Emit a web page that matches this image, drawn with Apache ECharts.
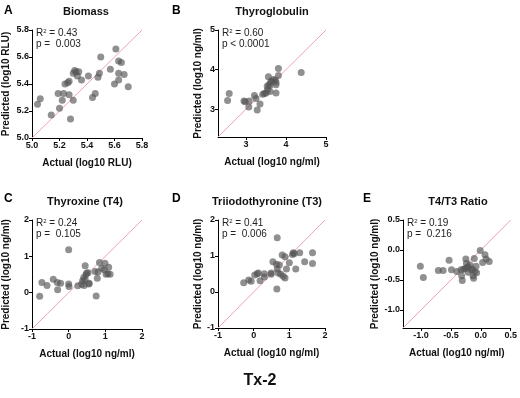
<!DOCTYPE html>
<html>
<head>
<meta charset="utf-8">
<script src="https://cdn.jsdelivr.net/npm/echarts@6/dist/echarts.min.js"></script>
<style>
html, body { margin: 0; padding: 0; background: #fff; }
#main { width: 520px; height: 398px; }
</style>
</head>
<body>
<div id="main"></div>
<script>
// data: [actual, predicted]
var biomassPts = [
    [5.04,5.25],[5.06,5.29],[5.14,5.17],[5.19,5.33],[5.20,5.22],[5.22,5.28],[5.23,5.33],
    [5.24,5.40],[5.26,5.41],[5.27,5.42],[5.27,5.32],[5.28,5.14],[5.30,5.28],[5.30,5.48],
    [5.31,5.50],[5.32,5.49],[5.33,5.46],[5.34,5.49],[5.36,5.43],[5.41,5.46],[5.44,5.30],
    [5.46,5.33],[5.48,5.45],[5.49,5.48],[5.50,5.60],[5.57,5.51],[5.60,5.40],[5.61,5.66],
    [5.63,5.57],[5.63,5.43],[5.63,5.48],[5.65,5.56],[5.67,5.47],[5.70,5.38]
];
var thyroglobulinPts = [
    [2.58,3.40],[2.54,3.22],[2.95,3.21],[2.98,3.19],[3.08,3.21],[3.07,3.06],[3.21,3.35],
    [3.25,3.27],[3.28,2.98],[3.35,3.13],[3.42,3.38],[3.46,3.40],[3.50,3.41],[3.53,3.58],
    [3.57,3.62],[3.54,3.49],[3.60,3.60],[3.62,3.70],[3.64,3.70],[3.56,3.82],[3.68,3.75],
    [3.60,3.45],[3.73,3.74],[3.75,3.62],[3.75,3.68],[3.75,3.41],[3.81,3.85],[3.81,4.03],
    [4.38,3.93]
];
var thyroxinePts = [
    [-0.79,-0.10],[-0.73,0.28],[-0.59,0.20],[-0.42,0.37],[-0.31,0.28],[-0.30,0.08],[-0.22,0.26],
    [0.00,1.18],[0.00,0.24],[0.01,0.17],[0.25,0.19],[0.36,0.23],[0.38,0.33],[0.41,0.42],
    [0.42,0.20],[0.45,0.36],[0.47,0.49],[0.45,0.74],[0.49,0.54],[0.53,0.55],[0.55,0.24],
    [0.56,0.26],[0.72,0.58],[0.75,-0.09],[0.78,0.40],[0.80,0.57],[0.84,0.83],[0.90,0.67],
    [0.97,0.63],[0.99,0.81],[1.02,0.51],[1.09,0.70],[1.07,0.52],[1.13,0.51]
];
var triiodoPts = [
    [-0.28,0.26],[-0.14,0.33],[-0.07,0.30],[0.03,0.47],[0.10,0.51],[0.13,0.53],[0.18,0.31],
    [0.30,0.42],[0.30,0.51],[0.49,0.53],[0.49,0.49],[0.54,0.84],[0.66,1.51],[0.65,0.08],
    [0.64,0.77],[0.66,0.64],[0.69,0.53],[0.72,0.75],[0.76,0.49],[0.83,0.44],[0.88,0.39],
    [0.80,1.03],[0.88,0.98],[0.92,0.64],[1.00,0.81],[1.09,1.04],[1.11,1.09],[1.14,1.07],
    [1.18,0.64],[1.29,1.09],[1.43,0.84],[1.65,1.09],[1.65,0.79]
];
var ratioPts = [
    [-1.01,-0.27],[-0.96,-0.46],[-0.71,-0.34],[-0.63,-0.34],[-0.53,-0.17],[-0.49,-0.33],
    [-0.40,-0.36],[-0.33,-0.33],[-0.32,-0.43],[-0.31,-0.51],[-0.29,-0.32],[-0.26,-0.31],
    [-0.25,-0.15],[-0.24,-0.22],[-0.23,-0.29],[-0.21,-0.28],[-0.21,-0.37],[-0.18,-0.25],
    [-0.16,-0.33],[-0.14,-0.32],[-0.13,-0.43],[-0.12,-0.47],[-0.11,-0.14],[-0.10,-0.36],
    [-0.08,-0.27],[-0.07,-0.38],[-0.01,-0.01],[0.03,-0.21],[0.07,-0.08],[0.09,-0.15],
    [0.14,-0.19]
];

var panelLetters = ['A', 'B', 'C', 'D', 'E'];
var panelTitles = ['Biomass', 'Thyroglobulin', 'Thyroxine (T4)', 'Triiodothyronine (T3)', 'T4/T3 Ratio'];
var xNames = ['Actual (log10 RLU)', 'Actual (log10 ng/ml)', 'Actual (log10 ng/ml)', 'Actual (log10 ng/ml)', 'Actual (log10 ng/ml)'];
var yNames = ['Predicted (log10 RLU)', 'Predicted (log10 ng/ml)', 'Predicted (log10 ng/ml)', 'Predicted (log10 ng/ml)', 'Predicted (log10 ng/ml)'];
var r2Values = ['0.43', '0.60', '0.24', '0.41', '0.19'];
var pValues = ['p =  0.003', 'p < 0.0001', 'p =  0.105', 'p =  0.006', 'p =  0.216'];
var axisMin = [5.0, 2.3, -1, -1, -1.3];
var axisMax = [5.8, 5, 2, 2, 0.5];
var tickValues = [
    [5.0, 5.2, 5.4, 5.6, 5.8],
    [3, 4, 5],
    [-1, 0, 1, 2],
    [-1, 0, 1, 2],
    [-1.0, -0.5, 0.0, 0.5]
];
var tickDigits = [1, 0, 0, 0, 1];
var allPts = [biomassPts, thyroglobulinPts, thyroxinePts, triiodoPts, ratioPts];

// layout
var grids = [
    {left: 32, top: 30, width: 110, height: 108},
    {left: 218, top: 30, width: 108, height: 107},
    {left: 32, top: 220, width: 110, height: 109},
    {left: 218, top: 220, width: 107, height: 108},
    {left: 403, top: 220, width: 108, height: 108}
];
var letterPos = [[4, 5], [172, 5], [4, 193], [172, 193], [363, 193]];
var titleCenters = [[86, 6], [272, 6], [85, 196], [267, 196], [458, 196]];
var yNameGap = [21, 15, 21, 15, 23];

var font = 'Liberation Sans, Arial, sans-serif';
var xAxes = [], yAxes = [], series = [], titles = [], graphics = [];

for (var i = 0; i < 5; i++) {
    var d = tickDigits[i];
    var axisBase = {
        gridIndex: i,
        type: 'value',
        min: axisMin[i],
        max: axisMax[i],
        nameLocation: 'middle',
        nameTextStyle: {fontFamily: font, fontWeight: 'bold', fontSize: 10, color: '#111'},
        axisLine: {show: true, onZero: false, lineStyle: {color: '#000', width: 1}},
        axisTick: {show: true, length: 3, lineStyle: {color: '#000'}, customValues: tickValues[i]},
        axisLabel: {
            fontFamily: font, fontWeight: 'bold', fontSize: 9, color: '#111', margin: 3,
            customValues: tickValues[i],
            formatter: (function (dd) { return function (v) { return v.toFixed(dd); }; })(d)
        },
        splitLine: {show: false}
    };
    xAxes.push(Object.assign({}, axisBase, {name: xNames[i], nameGap: 20}));
    yAxes.push(Object.assign({}, axisBase, {name: yNames[i], nameGap: yNameGap[i]}));

    series.push({
        type: 'line',
        xAxisIndex: i, yAxisIndex: i,
        data: [[axisMin[i], axisMin[i]], [axisMax[i], axisMax[i]]],
        symbol: 'none', silent: true,
        itemStyle: {color: '#eea2b2'},
        lineStyle: {color: '#eea2b2', width: 1},
        z: 1
    });
    series.push({
        type: 'scatter',
        xAxisIndex: i, yAxisIndex: i,
        data: allPts[i],
        symbolSize: 7,
        itemStyle: {color: 'rgba(85,85,85,0.82)'},
        z: 3
    });

    titles.push({
        text: panelLetters[i], left: letterPos[i][0], top: letterPos[i][1],
        textStyle: {fontFamily: font, fontWeight: 'bold', fontSize: 12, color: '#000'},
        padding: 0
    });
    titles.push({
        text: panelTitles[i], left: titleCenters[i][0], top: titleCenters[i][1], textAlign: 'center',
        textStyle: {fontFamily: font, fontWeight: 'bold', fontSize: 11, color: '#111'},
        padding: 0
    });

    graphics.push({
        type: 'text',
        left: grids[i].left + 4,
        top: grids[i].top - 2,
        style: {
            text: 'R{sup|2} = ' + r2Values[i] + '\n' + pValues[i],
            font: '10px ' + font,
            fill: '#222',
            lineHeight: 11,
            rich: {sup: {fontSize: 6, verticalAlign: 'top', lineHeight: 11, fill: '#222'}}
        },
        z: 10
    });
}

titles.push({
    text: 'Tx-2', left: 260, top: 373, textAlign: 'center', padding: 0,
    textStyle: {fontFamily: font, fontWeight: 'bold', fontSize: 16, color: '#111'}
});

var chart = echarts.init(document.getElementById('main'));
chart.setOption({
    animation: false,
    backgroundColor: '#fff',
    title: titles,
    grid: grids,
    xAxis: xAxes,
    yAxis: yAxes,
    series: series,
    graphic: graphics
});
</script>
</body>
</html>
